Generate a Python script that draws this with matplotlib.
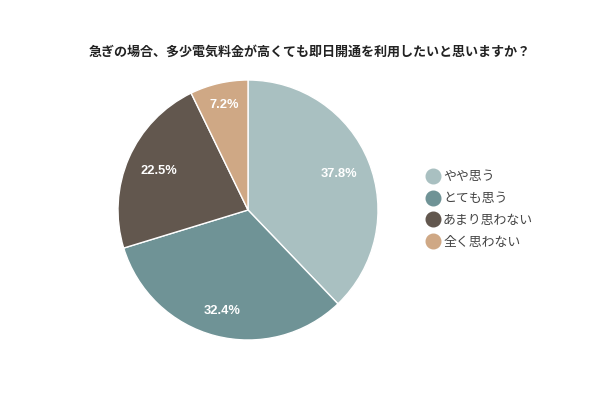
import matplotlib
matplotlib.use("Agg")
import numpy as np
import matplotlib.pyplot as plt
from matplotlib.lines import Line2D

plt.rcParams['font.family'] = ['Noto Sans CJK JP', 'DejaVu Sans']

title = "急ぎの場合、多少電気料金が高くても即日開通を利用したいと思いますか？"
categories = ["やや思う", "とても思う", "あまり思わない", "全く思わない"]
values = [37.8, 32.4, 22.5, 7.2]
colors = ["#a9c0c1", "#6f9396", "#62574e", "#cfa885"]
label_dist = [0.75, 0.8, 0.75, 0.83]

fig = plt.figure(figsize=(6, 4), dpi=100)
fig.patch.set_facecolor("white")

ax = fig.add_axes([(248 - 130) / 600, 1 - (210 + 130) / 400, 260 / 600, 260 / 400])
wedges, texts, autotexts = ax.pie(
    values, colors=colors, startangle=90, counterclock=False,
    autopct=lambda p: f"{p:.1f}%", pctdistance=0.75,
    wedgeprops=dict(edgecolor="white", linewidth=1),
    textprops=dict(color="white", fontsize=9.3, fontweight="bold",
                   family=["Liberation Sans", "DejaVu Sans"]),
)
for w, t, d in zip(wedges, autotexts, label_dist):
    ang = np.deg2rad((w.theta1 + w.theta2) / 2)
    t.set_position((d * np.cos(ang), d * np.sin(ang)))
ax.set_xlim(-1, 1)
ax.set_ylim(-1, 1)
ax.set_aspect("equal")

fig.text(310 / 600, 1 - 52 / 400, title, ha="center", va="center",
         fontsize=9.4, fontweight="bold", color="#222222")

handles = [Line2D([0], [0], marker="o", linestyle="", markersize=10.5,
                  markerfacecolor=c, markeredgecolor=c) for c in colors]
leg = fig.legend(handles, categories, loc="center left",
                 bbox_to_anchor=(414 / 600, 1 - 209.5 / 400), frameon=False,
                 fontsize=9.3, handletextpad=0.15, labelspacing=0.68,
                 handlelength=1.2)
for t in leg.get_texts():
    t.set_color("#444444")

fig.savefig("out.png", dpi=100, facecolor="white")
